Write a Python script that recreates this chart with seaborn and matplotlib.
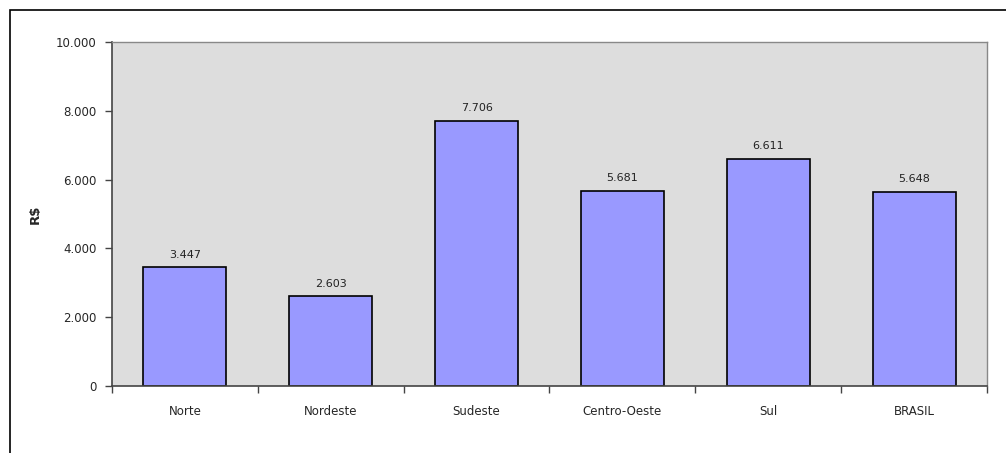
import matplotlib
matplotlib.use("Agg")
import matplotlib.pyplot as plt
import seaborn as sns
import pandas as pd
from matplotlib.patches import Rectangle

regioes = ["Norte", "Nordeste", "Sudeste", "Centro-Oeste", "Sul", "BRASIL"]
valores = [3447, 2603, 7706, 5681, 6611, 5648]
rotulos = ["3.447", "2.603", "7.706", "5.681", "6.611", "5.648"]
yticks = [0, 2000, 4000, 6000, 8000, 10000]
yticklabels = ["0", "2.000", "4.000", "6.000", "8.000", "10.000"]

sns.set_style("white")
plt.rcParams['font.family'] = ['DejaVu Sans']

df = pd.DataFrame({'regiao': regioes, 'valor': valores})

fig = plt.figure(figsize=(10.06, 4.53), dpi=100)
# moldura externa (so esquerda e topo visiveis)
fig.patches.append(Rectangle((10/1006, -0.1), 1.2, 1 - 10/453 + 0.1, transform=fig.transFigure,
                             fill=False, edgecolor='black', linewidth=1.2))

ax = fig.add_axes([112/1006, 67/453, 875/1006, 344/453])
ax.set_facecolor('#DDDDDD')

sns.barplot(data=df, x='regiao', y='valor', ax=ax, color='#9999FF', width=0.57,
            edgecolor='black', linewidth=1.2, saturation=1)

for i, (v, r) in enumerate(zip(valores, rotulos)):
    ax.text(i, v + 230, r, ha='center', va='bottom', fontsize=8, color='#222222')

ax.set_ylim(0, 10000)
ax.set_xlim(-0.5, 5.5)
ax.set_yticks(yticks)
ax.set_yticklabels(yticklabels, fontsize=8.5)
ax.set_xticks(range(6))
ax.set_xticklabels(regioes, fontsize=8.5)
ax.set_xticks([i - 0.5 for i in range(7)], minor=True)
ax.tick_params(axis='x', which='major', bottom=True, length=0, pad=14)
ax.tick_params(axis='x', which='minor', bottom=True, length=5, width=1, color='#444444', direction='out')
ax.tick_params(axis='y', left=True, length=5, width=1, color='#444444', direction='out', pad=6)
ax.set_xlabel('')
ax.set_ylabel('R$', fontsize=9.5, fontweight='bold', labelpad=10)

for s in ['top', 'right']:
    ax.spines[s].set_color('#888888')
    ax.spines[s].set_linewidth(1)
for s in ['left', 'bottom']:
    ax.spines[s].set_color('#444444')
    ax.spines[s].set_linewidth(1.2)

fig.savefig('out.png', dpi=100)
